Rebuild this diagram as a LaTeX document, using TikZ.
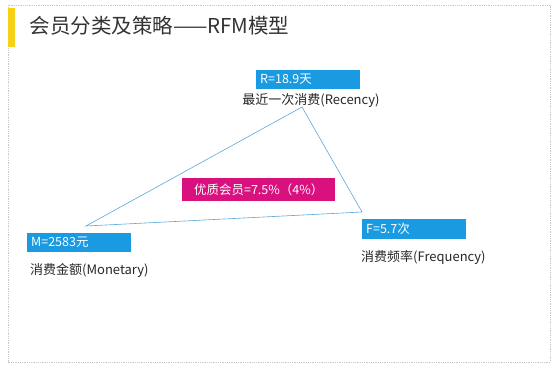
\documentclass[tikz,border=0pt]{standalone}
\usepackage{fontspec}
\setmainfont{Noto Sans CJK SC}
\usetikzlibrary{positioning}
\definecolor{valblue}{HTML}{1A9AE0}
\definecolor{rosered}{HTML}{D9117F}
\definecolor{baryellow}{HTML}{F7D117}
\definecolor{framegray}{HTML}{C8CCC0}
\definecolor{edgeblue}{HTML}{5BA8D8}

\begin{document}
\begin{tikzpicture}[x=1pt, y=-1pt,
        valbox/.style={rectangle, fill=valblue, text=white, font=\fontsize{12.5}{14}\selectfont, minimum width=104pt, minimum height=19pt, text width=96pt, align=left, inner sep=4pt},
        hotbox/.style={rectangle, fill=rosered, text=white, font=\fontsize{12.5}{14}\selectfont, minimum width=153pt, minimum height=23pt, inner sep=3pt},
        dimlabel/.style={font=\fontsize{13}{15}\selectfont, text=black!85, inner sep=1pt},
        side/.style={draw=edgeblue, line width=0.6pt},
    ]
    \useasboundingbox (0,0) rectangle (557,370);
    \draw[framegray, densely dotted, line width=0.8pt] (8,5) rectangle (550,362);
    \fill[baryellow] (8,8) rectangle (15,47);
    \node[anchor=west, font=\fontsize{20.5}{24}\selectfont, text=black!80] (title) at (26,26) {会员分类及策略——RFM模型};

    % triangle corners
    \coordinate (top) at (302,107);
    \coordinate (left) at (86,226);
    \coordinate (right) at (362,212);
    \draw[side] (top) -- (left) -- (right) -- cycle;

    \node[valbox, anchor=north west] (R) at (256,70) {R=18.9天};
    \node[dimlabel, anchor=center] (Rname) at (311,101) {最近一次消费(Recency)};

    \node[valbox, anchor=north west] (M) at (27,233) {M=2583元};
    \node[dimlabel, anchor=west] (Mname) at (29,270) {消费金额(Monetary)};

    \node[valbox, anchor=north west] (F) at (362,219) {F=5.7次};
    \node[dimlabel, anchor=west] (Fname) at (360,258) {消费频率(Frequency)};

    \node[hotbox, anchor=north west] (vip) at (182,178) {优质会员=7.5\%（4\%）};
\end{tikzpicture}
\end{document}
